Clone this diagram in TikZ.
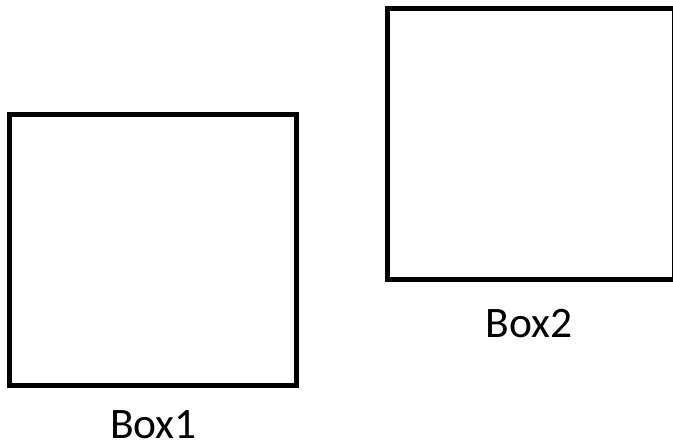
\documentclass[tikz,border=0pt]{standalone}
\usepackage{fontspec}
\setmainfont{Carlito}
\begin{document}
\begin{tikzpicture}[x=1pt,y=-1pt,
  boxstyle/.style={draw=black,line width=5pt,minimum width=287pt,minimum height=271pt,inner sep=0pt,outer sep=0pt},
  labelstyle/.style={font=\fontsize{43.5}{50}\selectfont,anchor=base,inner sep=0pt}]
\useasboundingbox (0,0) rectangle (673,446);
\clip (0,0) rectangle (673,446);
\node[boxstyle] (box1) at (153,250) {};
\node[boxstyle] (box2) at (531,144.3) {};
\node[labelstyle] (lab1) at (153.5,439) {Box1};
\node[labelstyle] (lab2) at (529,338) {Box2};
\end{tikzpicture}
\end{document}
